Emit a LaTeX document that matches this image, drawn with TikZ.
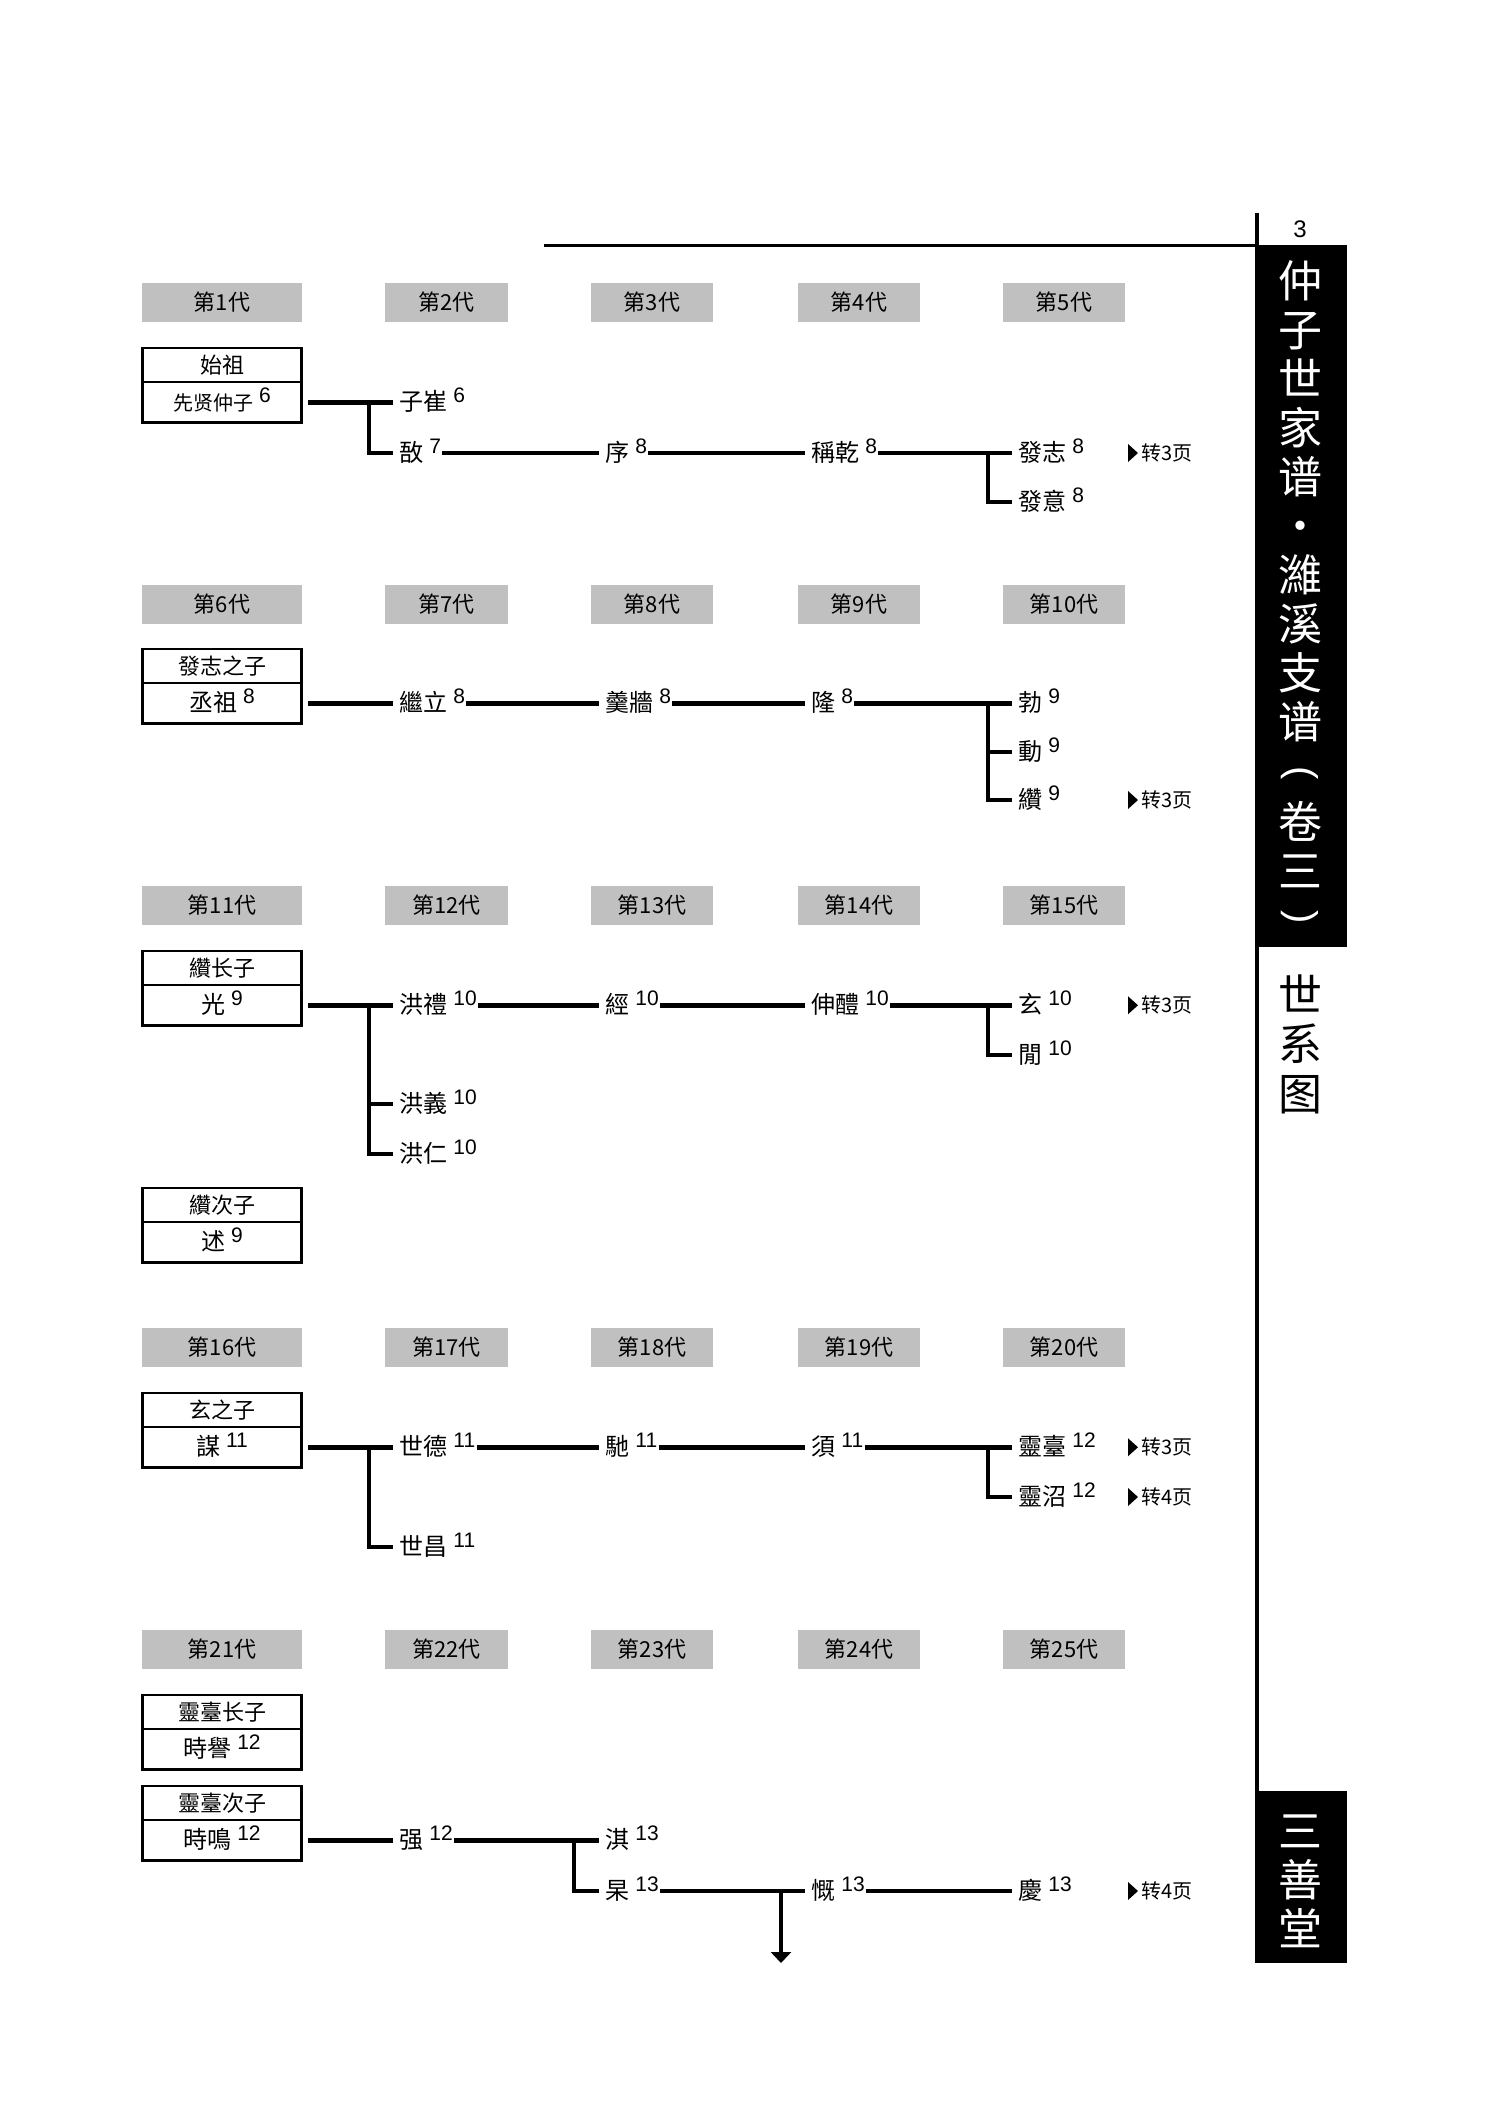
\documentclass[tikz,border=0pt]{standalone}
\usepackage{fontspec}
\setmainfont{Liberation Sans}
\newfontfamily\cjk{Noto Sans CJK SC}
\usetikzlibrary{arrows.meta}
\definecolor{genGray}{RGB}{192,192,192}
\newcommand\supn[1]{\hspace{3pt}\raisebox{4.2pt}{\rmfamily\fontsize{10.5pt}{10.5pt}\selectfont #1}}
\newcommand\nm[2]{#1\supn{#2}}
\newcommand\jtri[1]{\fill ([xshift=-1.5pt]#1.west) -- ++(-10,-9) -- ++(0,18) -- cycle;}
\begin{document}
\begin{tikzpicture}[x=0.5pt,y=-0.5pt,
  gen/.style={fill=genGray, minimum width=61.25pt, minimum height=19.5pt, inner sep=0pt, font={\cjk\fontsize{11pt}{11pt}\selectfont}},
  genw/.style={gen, minimum width=80pt},
  topcell/.style={draw, line width=1.4pt, minimum width=79.5pt, minimum height=17pt, inner sep=0pt, font={\cjk\fontsize{11pt}{11pt}\selectfont}},
  botcell/.style={draw, line width=1.4pt, minimum width=79.5pt, minimum height=20.25pt, inner sep=0pt, font={\cjk\fontsize{12pt}{12pt}\selectfont}, text height=9.5pt, text depth=1pt},
  pname/.style={anchor=west, inner sep=0pt, font={\cjk\fontsize{12pt}{12pt}\selectfont}, text height=9.5pt, text depth=1pt},
  jump/.style={anchor=west, inner sep=0pt, font={\cjk\fontsize{10pt}{10pt}\selectfont}, text height=8pt, text depth=1pt},
  link/.style={line width=2.4pt, shorten >=3pt, shorten <=0.5pt},
  boxlink/.style={line width=2.4pt, shorten >=3pt, shorten <=2.5pt},
  branch/.style={line width=2.4pt, shorten >=3pt},
  side/.style={inner sep=0pt, font={\cjk\fontsize{22pt}{22pt}\selectfont}, text height=16pt, text depth=0pt},
  paren/.style={inner sep=0pt, rotate=-90, text=white, font={\fontsize{20pt}{20pt}\selectfont}},
]
\fill[white] (0,0) rectangle (1489,2106);
\useasboundingbox (0,0) rectangle (1489,2106);

% generation headers
\foreach \r/\y in {0/302.5,1/604.5,2/905.5,3/1347.5,4/1649}{
  \foreach \c/\x in {1/222,2/446.5,3/652,4/859,5/1064}{
    \pgfmathtruncatemacro\g{\r*5+\c}
    \ifnum\c=1
      \node[genw] (g\g) at (\x,\y) {第\g 代};
    \else
      \node[gen] (g\g) at (\x,\y) {第\g 代};
    \fi
  }
}

\coordinate (ja1) at (369,0);
\coordinate (jb) at (988,0);
\coordinate (jc) at (574,0);

% ---- row 1
\node[topcell] (r1t) at (222,365) {始祖};
\node[botcell, font={\cjk\fontsize{10pt}{10pt}\selectfont}] (r1b) at (222,402.25) {\nm{先贤仲子}{6}};
\node[pname] (zc) at (399,402.25) {\nm{子崔}{6}};
\node[pname] (yu) at (399,453) {\nm{敔}{7}};
\node[pname] (xu) at (605,453) {\nm{序}{8}};
\node[pname] (cq) at (811,453) {\nm{稱乾}{8}};
\node[pname] (fz) at (1018,453) {\nm{發志}{8}};
\node[pname] (fy) at (1018,502) {\nm{發意}{8}};
\node[jump] (jp1) at (1141,453) {转3页};
\jtri{jp1}
\draw[boxlink] (r1b.east) -- (zc.west);
\draw[branch] (zc.west -| ja1) |- (yu.west);
\draw[link] (yu.east) -- (xu.west);
\draw[link] (xu.east) -- (cq.west);
\draw[link] (cq.east) -- (fz.west);
\draw[branch] (fz.west -| jb) |- (fy.west);

% ---- row 2
\node[topcell] (r2t) at (222,666) {發志之子};
\node[botcell] (r2b) at (222,703.25) {\nm{丞祖}{8}};
\node[pname] (jl) at (399,703.25) {\nm{繼立}{8}};
\node[pname] (gq) at (605,703.25) {\nm{羹牆}{8}};
\node[pname] (long) at (811,703.25) {\nm{隆}{8}};
\node[pname] (bo) at (1018,703.25) {\nm{勃}{9}};
\node[pname] (dong) at (1018,752) {\nm{動}{9}};
\node[pname] (zuan) at (1018,800) {\nm{纘}{9}};
\node[jump] (jp2) at (1141,800) {转3页};
\jtri{jp2}
\draw[boxlink] (r2b.east) -- (jl.west);
\draw[link] (jl.east) -- (gq.west);
\draw[link] (gq.east) -- (long.west);
\draw[link] (long.east) -- (bo.west);
\draw[branch] (bo.west -| jb) |- (zuan.west);
\draw[branch] (dong.west -| jb) -- (dong.west);

% ---- row 3
\node[topcell] (r3t) at (222,968) {纘长子};
\node[botcell] (r3b) at (222,1005.25) {\nm{光}{9}};
\node[pname] (hl) at (399,1005.25) {\nm{洪禮}{10}};
\node[pname] (hy) at (399,1104) {\nm{洪義}{10}};
\node[pname] (hr) at (399,1154) {\nm{洪仁}{10}};
\node[pname] (jing) at (605,1005.25) {\nm{經}{10}};
\node[pname] (sl) at (811,1005.25) {\nm{伸醴}{10}};
\node[pname] (xuan) at (1018,1005.25) {\nm{玄}{10}};
\node[pname] (xian) at (1018,1055) {\nm{閒}{10}};
\node[jump] (jp3) at (1141,1005.25) {转3页};
\jtri{jp3}
\draw[boxlink] (r3b.east) -- (hl.west);
\draw[branch] (hl.west -| ja1) |- (hr.west);
\draw[branch] (hy.west -| ja1) -- (hy.west);
\draw[link] (hl.east) -- (jing.west);
\draw[link] (jing.east) -- (sl.west);
\draw[link] (sl.east) -- (xuan.west);
\draw[branch] (xuan.west -| jb) |- (xian.west);
\node[topcell] (r3t2) at (222,1205) {纘次子};
\node[botcell] (r3b2) at (222,1242.25) {\nm{述}{9}};

% ---- row 4
\node[topcell] (r4t) at (222,1410) {玄之子};
\node[botcell] (r4b) at (222,1447.25) {\nm{謀}{11}};
\node[pname] (sd) at (399,1447.25) {\nm{世德}{11}};
\node[pname] (sc) at (399,1547) {\nm{世昌}{11}};
\node[pname] (chi) at (605,1447.25) {\nm{馳}{11}};
\node[pname] (xu2) at (811,1447.25) {\nm{須}{11}};
\node[pname] (lt) at (1018,1447.25) {\nm{靈臺}{12}};
\node[pname] (lz) at (1018,1497) {\nm{靈沼}{12}};
\node[jump] (jp4) at (1141,1447.25) {转3页};
\node[jump] (jp5) at (1141,1497) {转4页};
\jtri{jp4}
\jtri{jp5}
\draw[boxlink] (r4b.east) -- (sd.west);
\draw[branch] (sd.west -| ja1) |- (sc.west);
\draw[link] (sd.east) -- (chi.west);
\draw[link] (chi.east) -- (xu2.west);
\draw[link] (xu2.east) -- (lt.west);
\draw[branch] (lt.west -| jb) |- (lz.west);

% ---- row 5
\node[topcell] (r5t) at (222,1712) {靈臺长子};
\node[botcell] (r5b) at (222,1749.25) {\nm{時譽}{12}};
\node[topcell] (r5t2) at (222,1803) {靈臺次子};
\node[botcell] (r5b2) at (222,1840.25) {\nm{時鳴}{12}};
\node[pname] (qiang) at (399,1840.25) {\nm{强}{12}};
\node[pname] (qi) at (605,1840.25) {\nm{淇}{13}};
\node[pname] (gao) at (605,1891) {\nm{杲}{13}};
\node[pname] (kai) at (811,1891) {\nm{慨}{13}};
\node[pname] (qing) at (1018,1891) {\nm{慶}{13}};
\node[jump] (jp6) at (1141,1891) {转4页};
\jtri{jp6}
\draw[boxlink] (r5b2.east) -- (qiang.west);
\draw[link] (qiang.east) -- (qi.west);
\draw[branch] (qi.west -| jc) |- (gao.west);
\draw[link] (gao.east) -- (kai.west);
\draw[link] (kai.east) -- (qing.west);
\coordinate (ae) at (781,1963);
\coordinate (ja) at (gao.east -| ae);
\draw[line width=2.4pt, -{Triangle[width=10pt,length=5.5pt]}] (ja) -- (ae);

% ---- right sidebar
\coordinate (vt) at (1257,213);
\coordinate (vb) at (1257,1963);
\coordinate (hl0) at (544,245);
\draw[line width=1.5pt] (hl0) -- (hl0 -| vt);
\fill (1257,245) rectangle (1347,947);
\fill (1257,1791) rectangle (1347,1963);
\draw[line width=1.8pt] (vt) -- (vb);
\node[font={\fontsize{12pt}{12pt}\selectfont}] (pg) at (1300,229) {3};
\foreach \ch/\yy [count=\i] in {仲/281,子/330,世/379,家/428,谱/477,・/526,濰/575,溪/624,支/673,谱/722,卷/822,三/871}{
  \node[side, text=white] (ti\i) at (1300,\yy) {\ch};
}
\node[paren] (tpl) at (1300,773) {(};
\node[paren] (tpr) at (1300,917) {)};
\foreach \ch [count=\i] in {世,系,图}{
  \node[side] (sx\i) at (1300,{995+49.5*(\i-1)}) {\ch};
}
\foreach \ch [count=\i] in {三,善,堂}{
  \node[side, text=white] (ss\i) at (1300,{1831+49*(\i-1)}) {\ch};
}
\end{tikzpicture}
\end{document}
